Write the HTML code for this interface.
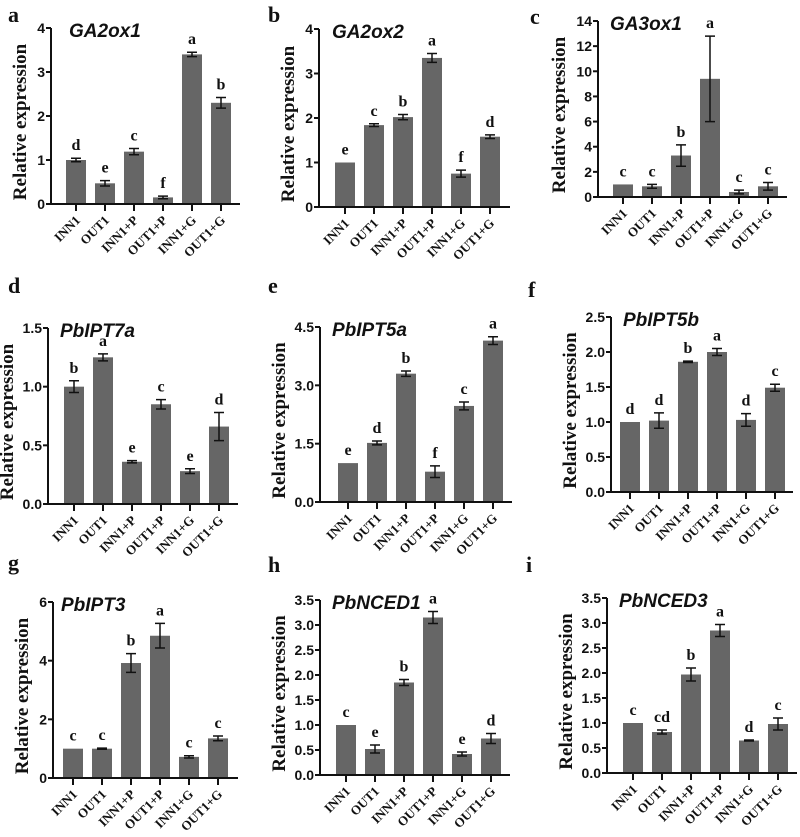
<!DOCTYPE html>
<html><head><meta charset="utf-8"><style>
html,body{margin:0;padding:0;background:#fff}
svg{display:block}
.tk{font:bold 14px "Liberation Sans",sans-serif;fill:#111}
.yl{font:bold 19px "Liberation Serif",serif;fill:#111}
.xl{font:bold 13px "Liberation Serif",serif;fill:#111}
.ti{font:italic bold 19px "Liberation Sans",sans-serif;fill:#111}
.lt{font:bold 16px "Liberation Serif",serif;fill:#111}
.pl{font:bold 22px "Liberation Serif",serif;fill:#111}
</style></head><body>
<svg id="fig" width="800" height="837" viewBox="0 0 800 837" xmlns="http://www.w3.org/2000/svg"></svg>
<script>
const categories = ["INN1","OUT1","INN1+P","OUT1+P","INN1+G","OUT1+G"];
const titles = ["GA2ox1","GA2ox2","GA3ox1","PbIPT7a","PbIPT5a","PbIPT5b","PbIPT3","PbNCED1","PbNCED3"];
const panelLetters = ["a","b","c","d","e","f","g","h","i"];
const valsA = [1.0,0.47,1.19,0.15,3.4,2.3];
const errsA = [0.04,0.06,0.07,0.03,0.05,0.12];
const sigA = ["d","e","c","f","a","b"];
const valsB = [1.0,1.84,2.02,3.35,0.75,1.58];
const errsB = [0,0.03,0.06,0.1,0.08,0.04];
const sigB = ["e","c","b","a","f","d"];
const valsC = [1.0,0.85,3.3,9.4,0.4,0.85];
const errsC = [0,0.15,0.85,3.4,0.15,0.3];
const sigC = ["c","c","b","a","c","c"];
const valsD = [1.0,1.25,0.36,0.85,0.28,0.66];
const errsD = [0.05,0.03,0.01,0.04,0.02,0.12];
const sigD = ["b","a","e","c","e","d"];
const valsE = [1.0,1.52,3.3,0.78,2.47,4.15];
const errsE = [0,0.05,0.07,0.15,0.1,0.1];
const sigE = ["e","d","b","f","c","a"];
const valsF = [1.0,1.02,1.86,2.0,1.03,1.49];
const errsF = [0,0.11,0.01,0.05,0.09,0.05];
const sigF = ["d","d","b","a","d","c"];
const valsG = [1.0,1.0,3.92,4.85,0.72,1.35];
const errsG = [0,0.02,0.32,0.42,0.04,0.08];
const sigG = ["c","c","b","a","c","c"];
const valsH = [1.0,0.52,1.85,3.15,0.42,0.73];
const errsH = [0,0.08,0.06,0.12,0.04,0.1];
const sigH = ["c","e","b","a","e","d"];
const valsI = [1.0,0.82,1.97,2.85,0.65,0.98];
const errsI = [0,0.04,0.13,0.12,0.01,0.12];
const sigI = ["c","cd","b","a","d","c"];
const ticksA = [0,1,2,3,4];
const ticksC = [0,2,4,6,8,10,12,14];
const ticksD = [0,0.5,1.0,1.5];
const ticksE = [0,1.5,3.0,4.5];
const ticksF = [0,0.5,1.0,1.5,2.0,2.5];
const ticksG = [0,2,4,6];
const ticksH = [0,0.5,1.0,1.5,2.0,2.5,3.0,3.5];

const panels = [
 {v:valsA,e:errsA,s:sigA,t:ticksA,dec:0,ax:51,top:28,zero:204,b0:76,end:240,lx:8,ly:22,yo:25,to:18},
 {v:valsB,e:errsB,s:sigB,t:ticksA,dec:0,ax:319,top:29,zero:207,b0:345,end:510,lx:268,ly:22,yo:25,to:13},
 {v:valsC,e:errsC,s:sigC,t:ticksC,dec:0,ax:598,top:21,zero:197,b0:623,end:787,lx:530,ly:24,yo:33,to:12},
 {v:valsD,e:errsD,s:sigD,t:ticksD,dec:1,ax:48,top:328,zero:504,b0:74,end:238,lx:8,ly:293,yo:35,to:12},
 {v:valsE,e:errsE,s:sigE,t:ticksE,dec:1,ax:320,top:327,zero:502,b0:348,end:512,lx:268,ly:293,yo:35,to:12},
 {v:valsF,e:errsF,s:sigF,t:ticksF,dec:1,ax:611,top:317,zero:492,b0:630,end:793,lx:528,ly:297,yo:35,to:12},
 {v:valsG,e:errsG,s:sigG,t:ticksG,dec:0,ax:53,top:602,zero:778,b0:73,end:238,lx:8,ly:570,yo:25,to:8},
 {v:valsH,e:errsH,s:sigH,t:ticksH,dec:1,ax:320,top:600,zero:775,b0:346,end:510,lx:268,ly:572,yo:35,to:12},
 {v:valsI,e:errsI,s:sigI,t:ticksH,dec:1,ax:607,top:598,zero:773,b0:633,end:797,lx:526,ly:572,yo:35,to:12}
];
const NS="http://www.w3.org/2000/svg";
const svg=document.getElementById('fig');
function mk(tag,attrs,parent,text){const el=document.createElementNS(NS,tag);for(const k in attrs)el.setAttribute(k,attrs[k]);if(text!==undefined)el.textContent=text;parent.appendChild(el);return el;}
panels.forEach((p,pi)=>{
  const g=mk('g',{},svg);
  
  
  const maxT=p.t[p.t.length-1];
  const y=v=>p.zero-(v/maxT)*(p.zero-p.top);
  const step=29;
  const x=i=>p.b0+i*step;
  const pl=mk('text',{x:p.lx,y:p.ly,class:'pl'},g,panelLetters[pi]);
  
  
  p.v.forEach((v,i)=>{
    const b=mk('rect',{x:x(i)-10,y:y(v),width:20,height:p.zero-y(v),fill:'#666'},g);
    
    
    const e=p.e[i];
    if(e>0){
      const eb=mk('path',{d:`M${x(i)} ${y(v+e)}V${y(v-e)}M${x(i)-5} ${y(v+e)}H${x(i)+5}M${x(i)-5} ${y(v-e)}H${x(i)+5}`,stroke:'#111','stroke-width':1.5,fill:'none'},g);
      
      
    }
    const sl=mk('text',{x:x(i),y:y(v+e)-8,class:'lt','text-anchor':'middle'},g,p.s[i]);
    
    
    mk('line',{x1:x(i),x2:x(i),y1:p.zero,y2:p.zero+7,stroke:'#111','stroke-width':2},g);
    const xl=mk('text',{x:0,y:0,class:'xl','text-anchor':'end',transform:`translate(${x(i)+5},${p.zero+17}) rotate(-45)`},g,categories[i]);
    
    
  });
  const axes=mk('path',{d:`M${p.ax} ${p.top}V${p.zero}H${p.end}`,stroke:'#111','stroke-width':2,fill:'none'},g);
  
  
  p.t.forEach(t=>{
    mk('line',{x1:p.ax-5,x2:p.ax,y1:y(t),y2:y(t),stroke:'#111','stroke-width':2},g);
    const tl=mk('text',{x:p.ax-6,y:y(t)+5,class:'tk','text-anchor':'end'},g,t.toFixed(p.dec));
    
    
  });
  const yt=mk('text',{x:0,y:0,class:'yl','text-anchor':'middle',transform:`translate(${p.ax-p.yo},${(p.top+p.zero)/2+6}) rotate(-90)`},g,'Relative expression');
  
  
  const ti=mk('text',{x:p.ax+p.to,y:p.top+9,class:'ti'},g,titles[pi]);
  
  
});
</script>
</body></html>
